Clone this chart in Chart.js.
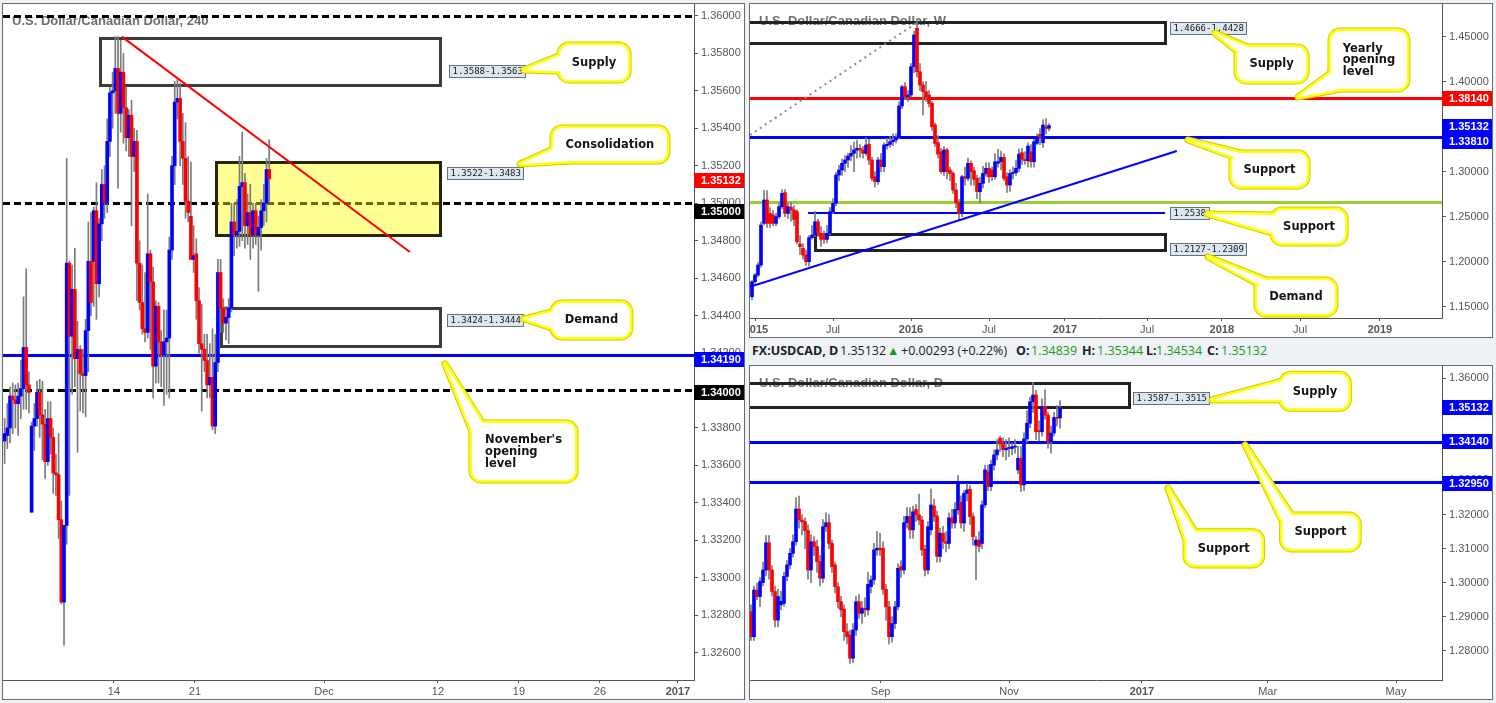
<!DOCTYPE html>
<html lang="en">
<head>
<meta charset="utf-8">
<title>USDCAD 240 / W / D</title>
<script src="https://cdn.jsdelivr.net/npm/chart.js@4.4.1/dist/chart.umd.min.js"></script>
<style>
  html, body { margin: 0; padding: 0; }
  body { width: 1496px; height: 703px; background: #eef1f5; position: relative; overflow: hidden;
         font-family: "Liberation Sans", Arial, sans-serif; }
  .panel { position: absolute; box-sizing: border-box; border: 1px solid #6b6b6b; background: #fff; }
  .panel canvas { position: absolute; left: 0; top: 0; }
  #p4h { left: 2px; top: 3px; width: 743px; height: 697px; }
  #pwk { left: 749px; top: 3px; width: 744px; height: 335px; }
  #pdy { left: 749px; top: 365px; width: 744px; height: 335px; }
  .hdr { position: absolute; top: 343px; font-family: "Open Sans", sans-serif; font-size: 12.5px; line-height: 16px;
         color: #222; white-space: nowrap; }
  .b { font-weight: bold; }
  .g { color: #1a9c1a; }
</style>
</head>
<body>
<div class="panel" id="p4h"><canvas id="c4h" width="741" height="695"></canvas></div>
<div class="panel" id="pwk"><canvas id="cwk" width="742" height="333"></canvas></div>
<div class="panel" id="pdy"><canvas id="cdy" width="742" height="333"></canvas></div>

<span class="hdr b" style="left:752px">FX:USDCAD, D</span>
<span class="hdr" style="left:840px">1.35132</span>
<span class="hdr g" style="left:887px">&#9650;</span>
<span class="hdr" style="left:901px">+0.00293 (+0.22%)</span>
<span class="hdr b" style="left:1016px">O:</span><span class="hdr g" style="left:1031px">1.34839</span>
<span class="hdr b" style="left:1082px">H:</span><span class="hdr g" style="left:1097px">1.35344</span>
<span class="hdr b" style="left:1146px">L:</span><span class="hdr g" style="left:1156px">1.34534</span>
<span class="hdr b" style="left:1207px">C:</span><span class="hdr g" style="left:1221px">1.35132</span>

<script>
// ---- 4H candles [open, high, low, close]
const h4Ohlc = [
  [1.3373,1.3385,1.3361,1.3377],[1.3376,1.3393,1.3369,1.3380],[1.3380,1.3402,1.3372,1.3397],[1.3397,1.3404,1.3377,1.3395],
  [1.3395,1.3403,1.3380,1.3393],[1.3393,1.3404,1.3376,1.3397],[1.3397,1.3416,1.3385,1.3401],[1.3401,1.3450,1.3390,1.3423],
  [1.3423,1.3465,1.3390,1.3403],[1.3403,1.3410,1.3388,1.3399],[1.3335,1.3383,1.3335,1.3381],[1.3381,1.3393,1.3368,1.3385],
  [1.3385,1.3405,1.3381,1.3399],[1.3399,1.3406,1.3375,1.3387],[1.3387,1.3405,1.3363,1.3382],[1.3382,1.3390,1.3353,1.3362],
  [1.3362,1.3394,1.3360,1.3385],[1.3385,1.3394,1.3366,1.3375],[1.3375,1.3380,1.3345,1.3356],[1.3356,1.3366,1.3344,1.3355],
  [1.3355,1.3377,1.3321,1.3331],[1.3331,1.3341,1.3286,1.3287],[1.3287,1.3328,1.3264,1.3328],[1.3328,1.3524,1.3318,1.3468],
  [1.3468,1.3469,1.3344,1.3429],[1.3429,1.3467,1.3398,1.3454],[1.3454,1.3476,1.3402,1.3417],[1.3417,1.3437,1.3367,1.3422],
  [1.3422,1.3424,1.3389,1.3409],[1.3409,1.3422,1.3388,1.3408],[1.3408,1.3438,1.3386,1.3432],[1.3432,1.3490,1.3410,1.3469],
  [1.3469,1.3495,1.3440,1.3447],[1.3469,1.3498,1.3445,1.3496],[1.3496,1.3511,1.3438,1.3457],[1.3457,1.3492,1.3450,1.3489],
  [1.3489,1.3518,1.3480,1.3510],[1.3510,1.3520,1.3492,1.3500],[1.3500,1.3545,1.3495,1.3533],[1.3533,1.3562,1.3525,1.3559],
  [1.3559,1.3570,1.3540,1.3560],[1.3560,1.3589,1.3548,1.3572],[1.3572,1.3589,1.3508,1.3548],[1.3548,1.3587,1.3538,1.3570],
  [1.3570,1.3580,1.3532,1.3551],[1.3551,1.3562,1.3528,1.3535],[1.3535,1.3550,1.3525,1.3547],[1.3547,1.3555,1.3488,1.3525],
  [1.3525,1.3540,1.3517,1.3533],[1.3533,1.3539,1.3448,1.3468],[1.3468,1.3480,1.3443,1.3447],[1.3447,1.3467,1.3430,1.3433],
  [1.3433,1.3463,1.3426,1.3431],[1.3431,1.3505,1.3428,1.3473],[1.3473,1.3475,1.3422,1.3458],[1.3458,1.3466,1.3396,1.3413],
  [1.3413,1.3448,1.3404,1.3445],[1.3445,1.3447,1.3404,1.3426],[1.3426,1.3432,1.3402,1.3419],[1.3419,1.3443,1.3392,1.3426],
  [1.3426,1.3443,1.3398,1.3428],[1.3428,1.3482,1.3396,1.3475],[1.3475,1.3525,1.3470,1.3520],[1.3520,1.3565,1.3510,1.3554],
  [1.3554,1.3566,1.3545,1.3556],[1.3556,1.3564,1.3520,1.3533],[1.3533,1.3548,1.3510,1.3524],[1.3524,1.3543,1.3492,1.3501],
  [1.3501,1.3525,1.3490,1.3495],[1.3493,1.3522,1.3470,1.3470],[1.3470,1.3488,1.3463,1.3472],[1.3473,1.3481,1.3438,1.3448],
  [1.3448,1.3455,1.3420,1.3425],[1.3425,1.3446,1.3389,1.3422],[1.3422,1.3430,1.3410,1.3416],[1.3416,1.3430,1.3396,1.3403],
  [1.3403,1.3425,1.3396,1.3407],[1.3407,1.3433,1.3379,1.3381],[1.3381,1.3430,1.3377,1.3415],[1.3415,1.3470,1.3410,1.3463],
  [1.3463,1.3470,1.3431,1.3444],[1.3444,1.3449,1.3431,1.3436],[1.3436,1.3445,1.3427,1.3439],[1.3439,1.3449,1.3425,1.3444],
  [1.3444,1.3500,1.3442,1.3490],[1.3490,1.3500,1.3472,1.3483],[1.3483,1.3502,1.3476,1.3485],[1.3485,1.3525,1.3477,1.3509],
  [1.3509,1.3538,1.3480,1.3511],[1.3511,1.3516,1.3476,1.3488],[1.3488,1.3505,1.3478,1.3495],[1.3495,1.3510,1.3470,1.3483],
  [1.3483,1.3500,1.3476,1.3496],[1.3496,1.3500,1.3478,1.3483],[1.3483,1.3493,1.3453,1.3487],[1.3487,1.3502,1.3475,1.3496],
  [1.3496,1.3510,1.3488,1.3500],[1.3500,1.3524,1.3490,1.3518],[1.3518,1.3534,1.3501,1.3513]
];
const h4PriceTicks = [1.326,1.328,1.330,1.332,1.334,1.336,1.338,1.340,1.342,1.344,1.346,1.348,1.350,1.352,1.354,1.356,1.358,1.360];
const h4TimeTicks = [40.5, 70.5, 118.3, 160.5, 190.5, 220.5, 249.4];
const h4TimeLabels = ['14', '21', 'Dec', '12', '19', '26', '2017'];
const h4Round = [1.3600, 1.3500, 1.3400];
const h4NovOpen = 1.3419;
const h4Zones = [[1.3588, 1.3563], [1.3522, 1.3483], [1.3424, 1.3444]];
const h4Trend = [[43.4, 1.3589], [150.1, 1.3474]];
const lastPrice = 1.35132;

// ---- weekly candles
const wkOhlc = [
  [1.1611,1.1790,1.1574,1.1778],[1.1778,1.1870,1.1760,1.1852],[1.1852,1.1990,1.1830,1.1963],[1.1963,1.2440,1.1940,1.2407],
  [1.2426,1.2790,1.2410,1.2685],[1.2685,1.2790,1.2380,1.2426],[1.2537,1.2600,1.2380,1.2426],[1.2519,1.2570,1.2400,1.2426],
  [1.2426,1.2540,1.2400,1.2500],[1.2500,1.2650,1.2480,1.2611],[1.2611,1.2800,1.2590,1.2759],[1.2767,1.2800,1.2500,1.2537],
  [1.2537,1.2650,1.2480,1.2611],[1.2604,1.2660,1.2450,1.2574],[1.2574,1.2620,1.2400,1.2470],[1.2556,1.2580,1.2200,1.2222],
  [1.2196,1.2290,1.2080,1.2167],[1.2148,1.2200,1.2030,1.2074],[1.2074,1.2130,1.1960,1.2000],[1.2000,1.2290,1.1950,1.2267],
  [1.2267,1.2400,1.2250,1.2296],[1.2296,1.2560,1.2280,1.2444],[1.2444,1.2470,1.2280,1.2315],[1.2315,1.2390,1.2170,1.2248],
  [1.2300,1.2340,1.2200,1.2248],[1.2248,1.2400,1.2210,1.2315],[1.2315,1.2600,1.2300,1.2556],[1.2556,1.2700,1.2530,1.2648],
  [1.2648,1.2990,1.2620,1.2963],[1.2963,1.3070,1.2900,1.3019],[1.3019,1.3140,1.2960,1.3093],[1.3093,1.3180,1.3000,1.3130],
  [1.3130,1.3200,1.3050,1.3174],[1.3174,1.3290,1.3120,1.3204],[1.3204,1.3330,1.3000,1.3241],[1.3241,1.3350,1.3150,1.3259],
  [1.3259,1.3300,1.3160,1.3241],[1.3241,1.3280,1.3150,1.3204],[1.3204,1.3380,1.3180,1.3296],[1.3304,1.3360,1.3080,1.3130],
  [1.3130,1.3160,1.2900,1.2926],[1.2944,1.3000,1.2830,1.2889],[1.2889,1.3160,1.2860,1.3130],[1.3130,1.3200,1.3000,1.3056],
  [1.3056,1.3320,1.3000,1.3296],[1.3289,1.3370,1.3250,1.3304],[1.3304,1.3390,1.3270,1.3333],[1.3333,1.3420,1.3290,1.3352],
  [1.3352,1.3420,1.3320,1.3381],[1.3381,1.3780,1.3370,1.3730],[1.3730,1.3960,1.3700,1.3944],[1.3944,1.3990,1.3800,1.3833],
  [1.3833,1.3900,1.3780,1.3852],[1.3852,1.4200,1.3830,1.4167],[1.4167,1.4560,1.4100,1.4519],[1.4593,1.4690,1.4050,1.4111],
  [1.4111,1.4200,1.3900,1.3963],[1.3963,1.4000,1.3630,1.3889],[1.3889,1.4000,1.3780,1.3833],[1.3852,1.3900,1.3720,1.3759],
  [1.3759,1.3780,1.3460,1.3500],[1.3519,1.3540,1.3280,1.3315],[1.3322,1.3400,1.3150,1.3196],[1.3222,1.3260,1.2980,1.3000],
  [1.3000,1.3280,1.2960,1.3241],[1.3241,1.3260,1.2920,1.3000],[1.3019,1.3050,1.2900,1.2981],[1.2981,1.3000,1.2760,1.2796],
  [1.2796,1.2870,1.2600,1.2656],[1.2656,1.2690,1.2461,1.2537],[1.2537,1.2960,1.2500,1.2944],[1.2944,1.3050,1.2850,1.2926],
  [1.2926,1.3150,1.2900,1.3093],[1.3093,1.3120,1.2850,1.3000],[1.3011,1.3050,1.2850,1.2915],[1.2926,1.2960,1.2700,1.2778],
  [1.2778,1.2940,1.2650,1.2870],[1.2870,1.3060,1.2820,1.2981],[1.2981,1.3100,1.2950,1.3037],[1.3037,1.3100,1.2880,1.2944],
  [1.3019,1.3050,1.2900,1.2944],[1.2944,1.3200,1.2920,1.3111],[1.3093,1.3250,1.3050,1.3111],[1.3111,1.3230,1.3020,1.3159],
  [1.3159,1.3200,1.2900,1.2926],[1.2944,1.2990,1.2770,1.2852],[1.2852,1.3020,1.2780,1.2981],[1.2981,1.3050,1.2920,1.2989],
  [1.2989,1.3130,1.2960,1.3037],[1.3037,1.3250,1.3000,1.3196],[1.3211,1.3260,1.3080,1.3137],[1.3137,1.3220,1.3080,1.3122],
  [1.3122,1.3320,1.3050,1.3285],[1.3222,1.3300,1.3050,1.3111],[1.3111,1.3360,1.3050,1.3333],[1.3315,1.3420,1.3300,1.3389],
  [1.3415,1.3480,1.3300,1.3381],[1.3322,1.3580,1.3270,1.3519],[1.3500,1.3590,1.3420,1.3481],[1.3483,1.3534,1.3453,1.3513]
];
const wkPriceTicks = [1.15, 1.20, 1.25, 1.30, 1.35, 1.40, 1.45];
const wkTimeTicks = [1.3, 27, 53, 79, 104.3, 131.7, 156.6, 182.7, 209.3];
const wkTimeLabels = ['2015', 'Jul', '2016', 'Jul', '2017', 'Jul', '2018', 'Jul', '2019'];
const wkYearOpen = 1.3814;
const wkSupport = 1.3381;
const wkGreen = 1.2660;
const wkSupport2 = 1.2538;
const wkZones = [[1.4666, 1.4428], [1.2127, 1.2309]];
const wkTrend = [[-0.67, 1.1722], [141.6, 1.3230]];
const wkDotted = [[-0.67, 1.3407], [56, 1.4680]];

// ---- daily candles
const dyOhlc = [
  [1.2915,1.2935,1.2830,1.2841],[1.2841,1.2990,1.2830,1.2978],[1.2978,1.2998,1.2950,1.2959],[1.2959,1.3015,1.2930,1.3003],
  [1.3000,1.3060,1.2990,1.3037],[1.3037,1.3138,1.3020,1.3117],[1.3117,1.3138,1.3010,1.3037],[1.3037,1.3050,1.2960,1.2974],
  [1.2974,1.2990,1.2870,1.2890],[1.2890,1.2980,1.2870,1.2959],[1.2935,1.2975,1.2920,1.2945],[1.2939,1.3030,1.2930,1.3018],
  [1.3018,1.3065,1.3005,1.3052],[1.3052,1.3100,1.3040,1.3086],[1.3086,1.3140,1.3075,1.3120],[1.3120,1.3250,1.3110,1.3216],
  [1.3216,1.3254,1.3160,1.3184],[1.3184,1.3200,1.3140,1.3179],[1.3179,1.3190,1.3100,1.3153],[1.3153,1.3170,1.3010,1.3037],
  [1.3037,1.3140,1.3000,1.3120],[1.3120,1.3135,1.3080,1.3106],[1.3106,1.3125,1.3030,1.3062],[1.3062,1.3080,1.2990,1.3013],
  [1.3013,1.3185,1.3000,1.3164],[1.3164,1.3205,1.3150,1.3176],[1.3176,1.3200,1.3100,1.3115],[1.3115,1.3125,1.3030,1.3047],
  [1.3052,1.3060,1.2970,1.2988],[1.2988,1.3000,1.2925,1.2944],[1.2944,1.2960,1.2900,1.2920],[1.2922,1.2935,1.2830,1.2856],
  [1.2856,1.2880,1.2820,1.2841],[1.2846,1.2860,1.2763,1.2778],[1.2778,1.2880,1.2765,1.2861],[1.2861,1.2960,1.2845,1.2944],
  [1.2944,1.2965,1.2895,1.2910],[1.2910,1.2945,1.2880,1.2925],[1.2925,1.2955,1.2900,1.2920],[1.2920,1.3030,1.2905,1.2995],
  [1.2988,1.3020,1.2970,1.3008],[1.3008,1.3115,1.2995,1.3096],[1.3096,1.3150,1.3080,1.3101],[1.3101,1.3145,1.3080,1.3096],
  [1.3101,1.3120,1.2965,1.2980],[1.2980,1.2995,1.2890,1.2929],[1.2929,1.2945,1.2820,1.2841],[1.2841,1.2900,1.2825,1.2880],
  [1.2880,1.2945,1.2865,1.2929],[1.2929,1.3055,1.2920,1.3042],[1.3047,1.3065,1.3015,1.3037],[1.3037,1.3195,1.3025,1.3176],
  [1.3176,1.3220,1.3160,1.3194],[1.3194,1.3220,1.3130,1.3155],[1.3155,1.3225,1.3130,1.3208],[1.3215,1.3230,1.3180,1.3199],
  [1.3199,1.3260,1.3170,1.3184],[1.3184,1.3195,1.3080,1.3096],[1.3098,1.3110,1.3020,1.3037],[1.3037,1.3180,1.3025,1.3164],
  [1.3155,1.3275,1.3140,1.3228],[1.3225,1.3245,1.3180,1.3194],[1.3196,1.3210,1.3060,1.3077],[1.3077,1.3160,1.3060,1.3145],
  [1.3145,1.3165,1.3100,1.3120],[1.3120,1.3150,1.3090,1.3115],[1.3115,1.3205,1.3100,1.3190],[1.3190,1.3215,1.3160,1.3175],
  [1.3175,1.3235,1.3160,1.3215],[1.3213,1.3315,1.3200,1.3297],[1.3236,1.3255,1.3160,1.3175],[1.3175,1.3270,1.3150,1.3262],
  [1.3262,1.3290,1.3240,1.3272],[1.3274,1.3285,1.3170,1.3194],[1.3194,1.3205,1.3110,1.3135],[1.3110,1.3135,1.3008,1.3125],
  [1.3125,1.3150,1.3090,1.3106],[1.3115,1.3240,1.3100,1.3228],[1.3228,1.3345,1.3220,1.3331],[1.3326,1.3345,1.3270,1.3282],
  [1.3282,1.3360,1.3270,1.3347],[1.3345,1.3390,1.3330,1.3375],[1.3375,1.3420,1.3360,1.3390],[1.3424,1.3430,1.3385,1.3407],
  [1.3407,1.3425,1.3370,1.3390],[1.3390,1.3420,1.3360,1.3394],[1.3394,1.3425,1.3370,1.3396],[1.3394,1.3410,1.3375,1.3399],
  [1.3398,1.3420,1.3380,1.3400],[1.3331,1.3400,1.3320,1.3365],[1.3365,1.3400,1.3267,1.3287],[1.3287,1.3440,1.3270,1.3422],
  [1.3422,1.3505,1.3410,1.3468],[1.3468,1.3545,1.3455,1.3531],[1.3531,1.3588,1.3500,1.3551],[1.3551,1.3565,1.3420,1.3443],
  [1.3446,1.3475,1.3416,1.3443],[1.3443,1.3540,1.3430,1.3517],[1.3517,1.3567,1.3480,1.3492],[1.3492,1.3500,1.3395,1.3414],
  [1.3414,1.3460,1.3380,1.3439],[1.3439,1.3500,1.3430,1.3485],[1.3485,1.3520,1.3460,1.3482],[1.34839,1.35344,1.34534,1.35132]
];
const dyPriceTicks = [1.28, 1.29, 1.30, 1.31, 1.32, 1.33, 1.34, 1.35, 1.36];
const dyTimeTicks = [43.2, 86, 130.3, 172.2, 215];
const dyTimeLabels = ['Sep', 'Nov', '2017', 'Mar', 'May'];
const dySupports = [1.3414, 1.3295];
const dyZones = [[1.3587, 1.3515]];

const BLUE = '#0000ff', RED = '#ff0000', AXIS = '#555555';
const FONT = '"Liberation Sans", Arial, sans-serif';
const zoneText = z => z[0].toFixed(4) + '-' + z[1].toFixed(4);
const DASH = [7, 4];

// drawings per canvas, all anchored in bar index / price units
const marks = {
  c4h: {
    title: 'U.S. Dollar/Canadian Dollar, 240',
    levels: [
      {p: h4Round[0], color: '#000', w: 3, dash: DASH},
      {p: h4Round[1], color: '#000', w: 3, dash: DASH},
      {p: h4Round[2], color: '#000', w: 3, dash: DASH},
      {p: h4NovOpen, color: BLUE, w: 3}
    ],
    zones: [
      {x: [35.3, 161.3], p: h4Zones[0], stroke: '#3c3c3c'},
      {x: [78.3, 161.3], p: h4Zones[1], stroke: '#262600', fill: 'rgba(255,255,0,0.42)'},
      {x: [80.1, 161.3], p: h4Zones[2], stroke: '#3c3c3c'}
    ],
    segs: [{a: h4Trend[0], b: h4Trend[1], color: RED, w: 2}],
    labels: [
      {x: 164.6, p: 1.35708, text: zoneText(h4Zones[0])},
      {x: 163.9, p: 1.35163, text: zoneText(h4Zones[1])},
      {x: 163.9, p: 1.34379, text: zoneText(h4Zones[2])}
    ],
    callouts: [
      {box: [205.7, 1.35845, 230.9, 1.35658], tip: [192.4, 1.35712], base: [[0, 0.3], [0, 0.75]], lines: ['Supply']},
      {box: [203.1, 1.35402, 245.3, 1.35226], tip: [190.9, 1.35210], base: [[0.03, 0.6], [0.15, 1]], lines: ['Consolidation']},
      {box: [203.1, 1.34467, 231.6, 1.34286], tip: [192.4, 1.34382], base: [[0, 0.25], [0, 0.75]], lines: ['Demand']},
      {box: [173.1, 1.33827, 211.3, 1.33522], tip: [163.1, 1.34142], base: [[0, 0.15], [0.1, 0]], lines: ["November's", 'opening', 'level']}
    ],
    tags: [
      {p: lastPrice, bg: RED, dy: 1.5},
      {p: h4Round[1], bg: '#000', dy: 8},
      {p: h4NovOpen, bg: BLUE, dy: 5},
      {p: h4Round[2], bg: '#000', dy: 2.5}
    ]
  },
  cwk: {
    title: 'U.S. Dollar/Canadian Dollar, W',
    levels: [
      {p: wkYearOpen, color: RED, w: 3},
      {p: wkSupport, color: BLUE, w: 3},
      {p: wkGreen, color: '#9acd32', w: 3},
      {p: wkSupport2, color: BLUE, w: 2, from: 18.7, to: 137.7}
    ],
    zones: [
      {x: [-5, 137.7], p: wkZones[0], stroke: '#222'},
      {x: [20.9, 137.7], p: wkZones[1], stroke: '#222'}
    ],
    segs: [
      {a: wkDotted[0], b: wkDotted[1], color: '#8a8a8a', w: 2, dash: [2, 4]},
      {a: wkTrend[0], b: wkTrend[1], color: BLUE, w: 2}
    ],
    labels: [
      {x: 139.3, p: 1.4597, text: zoneText(wkZones[0])},
      {x: 139.3, p: 1.2536, text: wkSupport2.toFixed(4)},
      {x: 139.3, p: 1.2136, text: zoneText(wkZones[1])}
    ],
    callouts: [
      {box: [161.7, 1.43856, 184.7, 1.40078], tip: [154.3, 1.4541], base: [[0, 0.12], [0.15, 0]], lines: ['Supply']},
      {box: [193, 1.45633, 218.3, 1.39189], tip: [182, 1.3830], base: [[0, 0.72], [0.13, 1]], lines: ['Yearly', 'opening', 'level']},
      {box: [160, 1.32078, 185, 1.28411], tip: [145.3, 1.33522], base: [[0, 0.1], [0.12, 0]], lines: ['Support']},
      {box: [173.7, 1.25744, 197.7, 1.22078], tip: [151.7, 1.2530], base: [[0, 0.15], [0, 0.7]], lines: ['Support']},
      {box: [168.3, 1.17967, 194.3, 1.14189], tip: [152, 1.20522], base: [[0, 0.1], [0.12, 0]], lines: ['Demand']}
    ],
    tags: [
      {p: wkYearOpen, bg: RED, dy: 0.4},
      {p: lastPrice, bg: BLUE, dy: 0.7},
      {p: wkSupport, bg: BLUE, dy: 4}
    ]
  },
  cdy: {
    title: 'U.S. Dollar/Canadian Dollar, D',
    levels: [
      {p: dySupports[0], color: BLUE, w: 3},
      {p: dySupports[1], color: BLUE, w: 3}
    ],
    zones: [{x: [-5, 126], p: dyZones[0], stroke: '#222'}],
    segs: [],
    labels: [{x: 127.3, p: 1.35413, text: zoneText(dyZones[0])}],
    callouts: [
      {box: [176.9, 1.36117, 199.1, 1.35119], tip: [153.7, 1.35363], base: [[0, 0.2], [0, 0.75]], lines: ['Supply']},
      {box: [177.2, 1.319853, 202.4, 1.309868], tip: [164.7, 1.340411], base: [[0, 0.2], [0.12, 0]], lines: ['Support']},
      {box: [145, 1.314949, 170.2, 1.30517], tip: [139, 1.327783], base: [[0, 0.25], [0.12, 0]], lines: ['Support']}
    ],
    tags: [
      {p: lastPrice, bg: BLUE, dy: 0},
      {p: dySupports[0], bg: BLUE, dy: 0.3},
      {p: dySupports[1], bg: BLUE, dy: 1.4}
    ]
  }
};

function drawCallout(ctx, X, Y, c) {
  const x1 = X(c.box[0]), x2 = X(c.box[2]), y1 = Y(c.box[1]), y2 = Y(c.box[3]);
  const bx = Math.min(x1, x2), by = Math.min(y1, y2), bw = Math.abs(x2 - x1), bh = Math.abs(y2 - y1);
  const tx = X(c.tip[0]), ty = Y(c.tip[1]);
  const b1 = [bx + c.base[0][0] * bw, by + c.base[0][1] * bh];
  const b2 = [bx + c.base[1][0] * bw, by + c.base[1][1] * bh];
  const box = () => { ctx.beginPath(); ctx.roundRect(bx, by, bw, bh, 9); };
  const wedge = () => { ctx.beginPath(); ctx.moveTo(tx, ty); ctx.lineTo(b1[0], b1[1]); ctx.lineTo(b2[0], b2[1]); ctx.closePath(); };
  ctx.lineJoin = 'round';
  [['#d2c800', 7], ['#ffff10', 5]].forEach(s => {
    ctx.strokeStyle = s[0]; ctx.lineWidth = s[1];
    wedge(); ctx.stroke(); box(); ctx.stroke();
  });
  ctx.fillStyle = '#fff';
  wedge(); ctx.fill(); box(); ctx.fill();

  ctx.font = 'bold 11.5px "DejaVu Sans", Verdana, sans-serif';
  ctx.fillStyle = '#151515';
  ctx.textBaseline = 'middle';
  ctx.textAlign = 'left';
  const lh = 11.7;
  const maxW = Math.max(...c.lines.map(t => ctx.measureText(t).width));
  const sx = bx + bw / 2 - maxW / 2;
  const sy = by + bh / 2 - (c.lines.length - 1) * lh / 2 + 0.5;
  c.lines.forEach((t, i) => ctx.fillText(t, sx, sy + i * lh));
}

const marksPlugin = {
  id: 'marks',
  beforeDatasetsDraw(chart) {
    const m = marks[chart.canvas.id];
    const ctx = chart.ctx, ca = chart.chartArea;
    const X = v => chart.scales.x.getPixelForValue(v), Y = v => chart.scales.y.getPixelForValue(v);
    ctx.save();
    ctx.beginPath(); ctx.rect(ca.left, ca.top, ca.right - ca.left, ca.bottom - ca.top); ctx.clip();

    ctx.font = 'bold 13px ' + FONT;
    ctx.fillStyle = 'rgba(95,95,95,0.9)';
    ctx.textBaseline = 'middle';
    ctx.fillText(m.title, ca.left + 9, ca.top + 17);

    m.levels.forEach(l => {
      const y = Math.round(Y(l.p)) + (l.w % 2 ? 0.5 : 0);
      ctx.beginPath();
      ctx.setLineDash(l.dash || []);
      ctx.strokeStyle = l.color; ctx.lineWidth = l.w;
      ctx.moveTo(l.from !== undefined ? X(l.from) : ca.left, y);
      ctx.lineTo(l.to !== undefined ? X(l.to) : ca.right, y);
      ctx.stroke();
    });
    ctx.setLineDash([]);

    m.zones.forEach(z => {
      const l = Math.round(X(z.x[0])) + 0.5, r = Math.round(X(z.x[1])) + 0.5;
      const t = Math.round(Y(Math.max(...z.p))) + 0.5, b = Math.round(Y(Math.min(...z.p))) + 0.5;
      if (z.fill) { ctx.fillStyle = z.fill; ctx.fillRect(l, t, r - l, b - t); }
      ctx.strokeStyle = z.stroke; ctx.lineWidth = 3;
      ctx.strokeRect(l, t, r - l, b - t);
    });
    ctx.restore();
  },
  afterDatasetsDraw(chart) {
    const m = marks[chart.canvas.id];
    const ctx = chart.ctx, ca = chart.chartArea;
    const X = v => chart.scales.x.getPixelForValue(v), Y = v => chart.scales.y.getPixelForValue(v);
    ctx.save();
    ctx.beginPath(); ctx.rect(ca.left, ca.top, ca.right - ca.left, ca.bottom - ca.top); ctx.clip();

    m.segs.forEach(s => {
      ctx.beginPath();
      ctx.setLineDash(s.dash || []);
      ctx.strokeStyle = s.color; ctx.lineWidth = s.w;
      ctx.moveTo(X(s.a[0]), Y(s.a[1]));
      ctx.lineTo(X(s.b[0]), Y(s.b[1]));
      ctx.stroke();
    });
    ctx.setLineDash([]);

    m.labels.forEach(l => {
      ctx.font = '9px "DejaVu Sans Mono", monospace';
      const w = Math.round(ctx.measureText(l.text).width) + 6, h = 12;
      const x = Math.round(X(l.x)) + 0.5, y = Math.round(Y(l.p) - h / 2) + 0.5;
      ctx.fillStyle = '#dde7ef'; ctx.fillRect(x, y, w, h);
      ctx.strokeStyle = '#5f7385'; ctx.lineWidth = 1; ctx.strokeRect(x, y, w, h);
      ctx.fillStyle = '#1a1a1a'; ctx.textBaseline = 'middle';
      ctx.fillText(l.text, x + 3, y + h / 2 + 0.5);
    });

    m.callouts.forEach(c => drawCallout(ctx, X, Y, c));
    ctx.restore();
  },
  afterDraw(chart) {
    const m = marks[chart.canvas.id];
    const ctx = chart.ctx, ca = chart.chartArea;
    const Y = v => chart.scales.y.getPixelForValue(v);
    ctx.save();
    m.tags.forEach(t => {
      const y = Y(t.p) + t.dy;
      ctx.fillStyle = t.bg;
      ctx.fillRect(ca.right, Math.round(y - 7.5), chart.width - ca.right, 15);
      ctx.fillStyle = '#fff';
      ctx.font = 'bold 11px ' + FONT;
      ctx.textBaseline = 'middle';
      ctx.fillText(t.p.toFixed(5), ca.right + 7, Math.round(y - 7.5) + 8);
    });
    ctx.restore();
  }
};

function candleChart(id, ohlc, cfg) {
  const bodies = ohlc.map((c, i) => ({x: i, y: [c[0], c[3]]}));
  const wicks = ohlc.map((c, i) => ({x: i, y: [c[2], c[1]]}));
  const colors = ohlc.map(c => c[3] >= c[0] ? BLUE : RED);
  return new Chart(document.getElementById(id), {
    type: 'bar',
    data: {
      datasets: [
        {data: bodies, backgroundColor: colors, barThickness: 3, minBarLength: 1, grouped: false, order: 1},
        {data: wicks, backgroundColor: '#7b7b7b', barThickness: 1, grouped: false, order: 2}
      ]
    },
    options: {
      responsive: false,
      animation: false,
      events: [],
      layout: {padding: 0},
      plugins: {legend: {display: false}, tooltip: {enabled: false}},
      scales: {
        x: {
          type: 'linear', min: cfg.xMin, max: cfg.xMax, bounds: 'data', offset: false,
          grid: {display: true, offset: false, drawOnChartArea: false, drawTicks: true, tickLength: 3, color: AXIS},
          border: {display: true, color: AXIS},
          afterBuildTicks: s => { s.ticks = cfg.xTicks.map(v => ({value: v})); },
          afterFit: s => { s.height = 19; s.paddingLeft = 0; s.paddingRight = 0; },
          ticks: {
            autoSkip: false, maxRotation: 0, minRotation: 0, padding: 2, color: AXIS,
            font: c => ({family: FONT, size: 11, weight: /^\d{4}$/.test(cfg.xLabels[c.index]) ? 'bold' : 'normal'}),
            callback: (v, i) => cfg.xLabels[i]
          }
        },
        y: {
          type: 'linear', position: 'right', min: cfg.yMin, max: cfg.yMax, bounds: 'data',
          grid: {display: true, offset: false, drawOnChartArea: false, drawTicks: true, tickLength: 4, color: AXIS},
          border: {display: true, color: AXIS},
          afterBuildTicks: s => { s.ticks = cfg.yTicks.map(v => ({value: v})); },
          afterFit: s => { s.width = 50; s.paddingTop = 0; s.paddingBottom = 0; },
          ticks: {padding: 3, color: AXIS, font: {family: FONT, size: 11}, callback: v => v.toFixed(5)}
        }
      }
    },
    plugins: [marksPlugin]
  });
}

candleChart('c4h', h4Ohlc, {
  xMin: -0.6, xMax: 255.33, yMin: 1.32454, yMax: 1.36064,
  xTicks: h4TimeTicks, xLabels: h4TimeLabels, yTicks: h4PriceTicks
});
candleChart('cwk', wkOhlc, {
  xMin: -0.667, xMax: 230, yMin: 1.13744, yMax: 1.48633,
  xTicks: wkTimeTicks, xLabels: wkTimeLabels, yTicks: wkPriceTicks
});
candleChart('cdy', dyOhlc, {
  xMin: -0.333, xMax: 230.33, yMin: 1.27140, yMax: 1.36361,
  xTicks: dyTimeTicks, xLabels: dyTimeLabels, yTicks: dyPriceTicks
});
</script>
</body>
</html>
